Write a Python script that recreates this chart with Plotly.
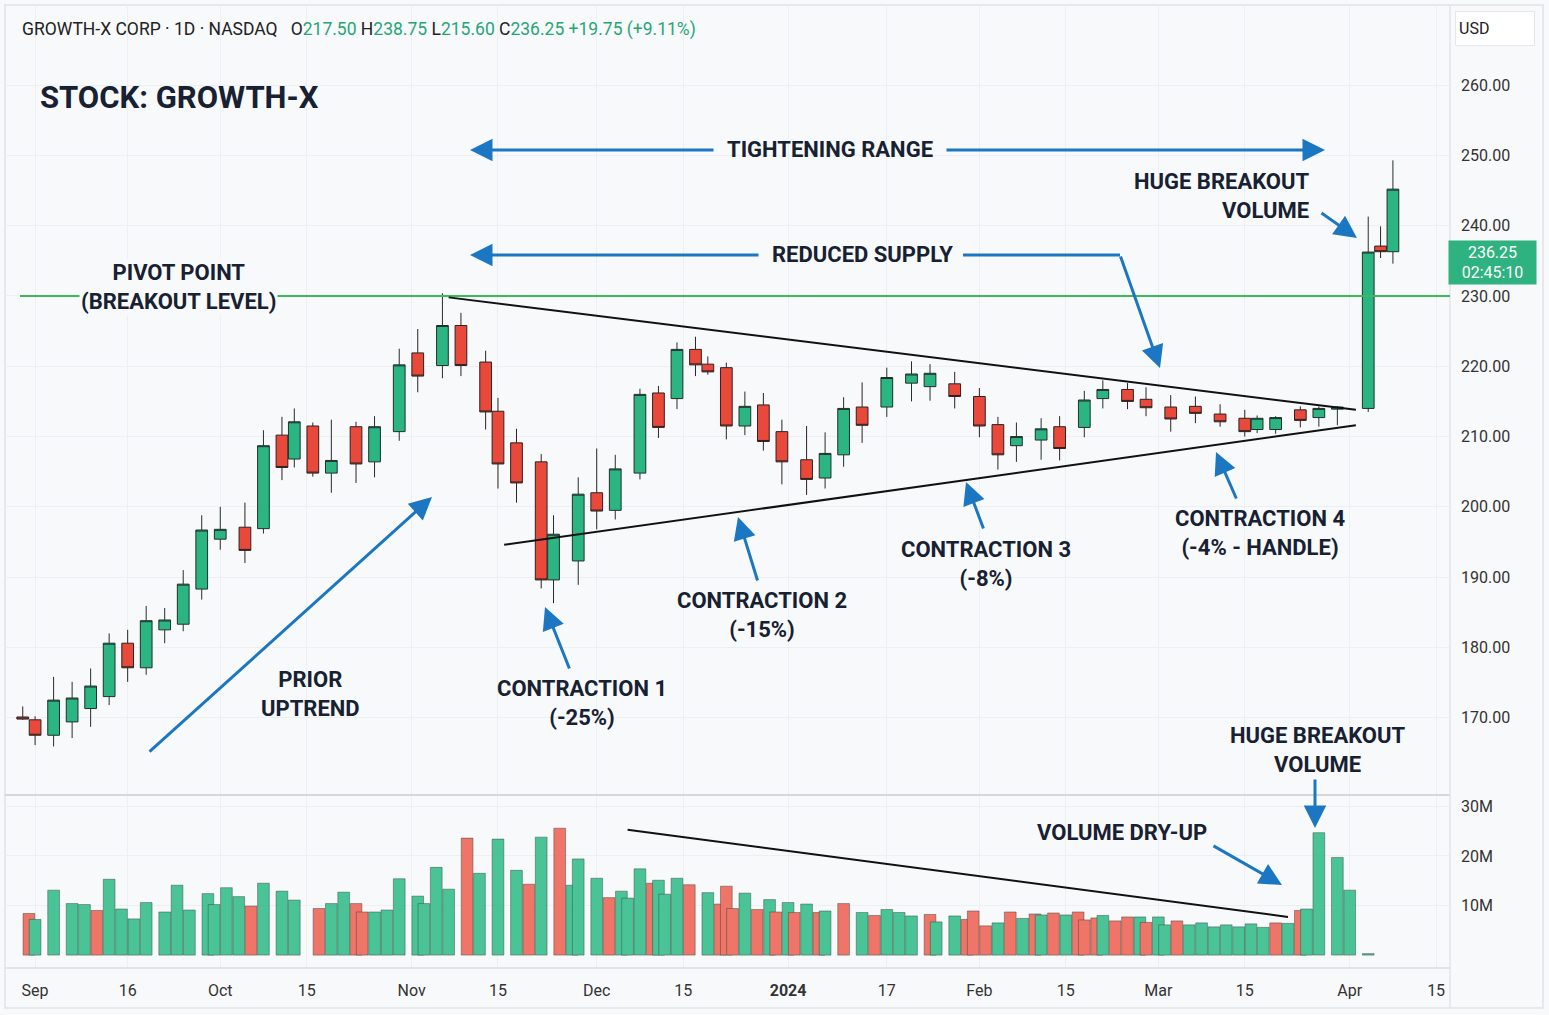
import plotly.graph_objects as go

# ---- price candles (daily) ----
candle_dates = [
    "2023-08-30", "2023-09-01", "2023-09-04", "2023-09-07", "2023-09-10", "2023-09-13", "2023-09-16",
    "2023-09-19", "2023-09-22", "2023-09-25", "2023-09-28", "2023-10-01", "2023-10-05", "2023-10-08",
    "2023-10-11", "2023-10-13", "2023-10-16", "2023-10-19", "2023-10-23", "2023-10-26", "2023-10-30",
    "2023-11-02", "2023-11-06", "2023-11-09", "2023-11-13", "2023-11-15", "2023-11-18", "2023-11-22",
    "2023-11-24", "2023-11-28", "2023-12-01", "2023-12-04", "2023-12-08", "2023-12-11", "2023-12-14",
    "2023-12-17", "2023-12-19", "2023-12-22", "2023-12-25", "2023-12-28", "2023-12-31", "2024-01-04",
    "2024-01-07", "2024-01-10", "2024-01-13", "2024-01-17", "2024-01-21", "2024-01-24", "2024-01-28",
    "2024-02-01", "2024-02-04", "2024-02-07", "2024-02-11", "2024-02-14", "2024-02-18", "2024-02-21",
    "2024-02-25", "2024-02-28", "2024-03-03", "2024-03-07", "2024-03-11", "2024-03-15", "2024-03-17",
    "2024-03-20", "2024-03-24", "2024-03-27", "2024-03-30", "2024-04-04", "2024-04-06", "2024-04-08",
]
opens = [170.1, 169.7, 167.5, 169.4, 171.3, 173.0, 180.6, 177.1, 182.5, 183.3, 188.3, 195.4, 197.1, 196.9,
         210.2, 206.8, 211.5, 204.8, 211.4, 206.4, 210.7, 221.9, 220.1, 225.8, 220.6, 213.6, 209.1, 206.4,
         189.6, 192.3, 202.0, 199.5, 204.8, 216.2, 215.4, 222.4, 220.3, 219.8, 211.5, 214.5, 210.7, 206.7,
         204.1, 207.4, 214.2, 214.2, 217.6, 217.1, 217.5, 215.7, 211.7, 208.7, 209.5, 211.4, 211.3, 215.4,
         216.7, 215.3, 214.2, 214.3, 213.2, 212.6, 211.0, 211.0, 213.8, 212.7, 213.9, 214.0, 237.1, 236.3]
highs = [171.6, 170.2, 175.8, 175.1, 177.0, 182.0, 182.5, 185.9, 185.6, 191.0, 198.8, 200.0, 200.6, 210.9,
         212.8, 214.0, 212.0, 212.4, 212.1, 212.9, 222.5, 225.3, 230.4, 227.6, 222.2, 215.5, 211.1, 207.5,
         198.8, 204.2, 208.3, 207.4, 216.8, 217.2, 223.4, 224.2, 221.4, 220.5, 216.4, 216.2, 212.4, 211.5,
         210.6, 215.6, 217.7, 219.8, 220.7, 220.3, 219.2, 216.9, 212.8, 212.0, 212.6, 212.9, 216.5, 218.0,
         217.6, 217.0, 215.9, 215.7, 214.6, 213.8, 213.0, 212.9, 214.3, 214.3, 214.3, 241.3, 239.9, 249.3]
lows = [169.7, 166.1, 165.9, 167.1, 168.7, 171.8, 175.1, 176.1, 180.6, 182.3, 186.8, 193.9, 192.0, 196.2,
        203.8, 205.6, 204.3, 202.0, 203.4, 204.2, 209.4, 216.3, 218.3, 218.6, 211.0, 202.6, 200.6, 188.4,
        186.3, 188.9, 196.8, 198.2, 203.9, 209.8, 213.9, 218.6, 218.8, 209.6, 210.2, 208.0, 203.2, 201.7,
        202.6, 205.7, 209.1, 212.8, 215.0, 215.1, 214.0, 209.9, 205.3, 206.4, 206.7, 206.6, 209.9, 214.0,
        213.9, 212.9, 210.7, 211.9, 211.4, 210.0, 210.5, 210.4, 211.3, 211.4, 211.6, 213.5, 235.4, 234.6]
closes = [169.8, 167.5, 172.5, 172.8, 174.5, 180.6, 177.1, 183.8, 183.9, 189.0, 196.7, 196.8, 193.8, 208.7,
          205.6, 212.1, 204.8, 206.6, 206.1, 211.4, 220.2, 218.6, 225.8, 220.1, 213.5, 206.1, 203.4, 189.6,
          196.1, 201.8, 199.4, 205.4, 216.0, 211.3, 222.4, 220.2, 219.2, 211.5, 214.3, 209.3, 206.4, 203.9,
          207.6, 214.0, 211.6, 218.4, 218.9, 219.0, 215.7, 211.5, 207.4, 210.0, 211.1, 208.3, 215.2, 216.7,
          215.0, 214.1, 212.5, 213.3, 212.1, 210.7, 212.6, 212.7, 212.3, 214.0, 214.2, 236.25, 236.3, 245.2]

# ---- volume (millions), G = up bar, R = down bar ----
volume_dates = [
    "2023-08-31", "2023-09-01", "2023-09-04", "2023-09-07", "2023-09-09", "2023-09-11", "2023-09-13",
    "2023-09-15", "2023-09-17", "2023-09-19", "2023-09-22", "2023-09-24", "2023-09-26", "2023-09-29",
    "2023-09-30", "2023-10-02", "2023-10-04", "2023-10-06", "2023-10-08", "2023-10-11", "2023-10-13",
    "2023-10-17", "2023-10-19", "2023-10-21", "2023-10-23", "2023-10-24", "2023-10-26", "2023-10-28",
    "2023-10-30", "2023-11-02", "2023-11-03", "2023-11-05", "2023-11-07", "2023-11-10", "2023-11-12",
    "2023-11-15", "2023-11-18", "2023-11-20", "2023-11-22", "2023-11-25", "2023-11-27", "2023-11-28",
    "2023-12-01", "2023-12-03", "2023-12-05", "2023-12-06", "2023-12-08", "2023-12-10", "2023-12-11",
    "2023-12-12", "2023-12-14", "2023-12-16", "2023-12-19", "2023-12-21", "2023-12-22", "2023-12-23",
    "2023-12-25", "2023-12-27", "2023-12-29", "2023-12-30", "2024-01-01", "2024-01-02", "2024-01-04",
    "2024-01-06", "2024-01-07", "2024-01-10", "2024-01-13", "2024-01-15", "2024-01-17", "2024-01-19",
    "2024-01-21", "2024-01-24", "2024-01-25", "2024-01-28", "2024-01-30", "2024-01-31", "2024-02-02",
    "2024-02-04", "2024-02-06", "2024-02-08", "2024-02-10", "2024-02-11", "2024-02-13", "2024-02-15",
    "2024-02-17", "2024-02-18", "2024-02-20", "2024-02-21", "2024-02-23", "2024-02-25", "2024-02-27",
    "2024-02-28", "2024-03-01", "2024-03-02", "2024-03-04", "2024-03-06", "2024-03-08", "2024-03-10",
    "2024-03-12", "2024-03-14", "2024-03-16", "2024-03-18", "2024-03-20", "2024-03-22", "2024-03-24",
    "2024-03-25", "2024-03-27", "2024-03-30", "2024-04-01", "2024-04-04",
]
volume_m = [8.4, 7.2, 13.1, 10.4, 10.2, 9.0, 15.3, 9.3, 7.3, 10.6, 8.7, 14.1, 9.1, 12.4, 10.2, 13.6, 11.8,
            9.9, 14.5, 12.9, 11.1, 9.4, 10.4, 12.7, 10.4, 8.7, 8.7, 9.1, 15.4, 11.9, 10.4, 17.7, 13.3, 23.6,
            16.5, 23.4, 17.1, 14.3, 23.8, 25.6, 14.1, 19.4, 15.5, 11.6, 12.9, 11.5, 17.4, 14.5, 15.1, 12.3,
            15.5, 14.2, 12.6, 10.3, 13.9, 9.4, 12.5, 9.2, 11.2, 8.7, 10.6, 8.6, 10.3, 8.6, 8.9, 10.4, 8.6,
            8.0, 9.2, 8.6, 7.9, 8.2, 6.7, 7.9, 7.2, 8.9, 5.9, 6.5, 8.7, 7.4, 8.3, 8.1, 8.5, 8.1, 8.7, 7.1,
            7.5, 8.0, 6.9, 7.7, 7.7, 6.6, 7.7, 6.1, 6.9, 6.1, 6.5, 5.7, 6.1, 5.7, 6.3, 5.6, 6.5, 6.4, 9.0,
            9.3, 24.7, 19.7, 13.1, 0.3]
volume_up = "RGGGGRGGGGGGGGGGGRGGGRGGRRGGGGGGGRGGGRGRGGGRGGGRGGGRGRRRGRGRGRGRGRGRGGGRGGRRRGRGRGRGRRRGRRGRGGRGGGGGGGRGRGGGGG"

price_ticks = [170, 180, 190, 200, 210, 220, 230, 240, 250, 260]
volume_ticks = [10, 20, 30]
date_ticks = ["2023-09-01", "2023-09-16", "2023-10-01", "2023-10-15", "2023-11-01", "2023-11-15",
              "2023-12-01", "2023-12-15", "2024-01-01", "2024-01-17", "2024-02-01", "2024-02-15",
              "2024-03-01", "2024-03-15", "2024-04-01", "2024-04-15"]
date_labels = ["Sep", "16", "Oct", "15", "Nov", "15", "Dec", "15", "<b>2024</b>", "17", "Feb", "15",
               "Mar", "15", "Apr", "15"]

pivot_level = 230.0
last_price = 236.25
upper_trend = (["2023-11-07", "2024-04-02"], [229.8, 213.8])
lower_trend = (["2023-11-16", "2024-04-02"], [194.6, 211.6])
volume_trend = (["2023-12-06", "2024-03-22"], [25.3, 7.7])

GREEN = "#2bb582"
RED = "#e8493b"
BLUE = "#1c77c3"
INK = "#172131"
BG = "#f8f9fb"
GRID = "#eceff3"
BOLD = "Roboto, Lato, Arial"
PLAIN = "Roboto, Inter, Arial"


# pixel -> paper helpers for annotation placement (plot area 5..1450 x 5..967)
def px(x):
    return (x - 5) / 1445


def py(y):
    return (967 - y) / 962


fig = go.Figure()

fig.add_trace(go.Bar(
    x=volume_dates,
    y=[v * 1e6 for v in volume_m],
    width=1.9 * 86400000,
    marker=dict(color=["#3cc08f" if u == "G" else "#ef6a5c" for u in volume_up],
                line=dict(color="rgba(30,45,40,0.55)", width=0.8)),
    opacity=0.92,
    yaxis="y2",
    showlegend=False,
    hoverinfo="skip",
))

fig.add_trace(go.Candlestick(
    x=candle_dates, open=opens, high=highs, low=lows, close=closes,
    increasing=dict(line=dict(color="#22302c", width=1), fillcolor=GREEN),
    decreasing=dict(line=dict(color="#2e2222", width=1), fillcolor=RED),
    whiskerwidth=0,
    yaxis="y",
    showlegend=False,
))

shapes = [
    # outer card
    dict(type="rect", xref="paper", yref="paper", x0=px(5), x1=px(1543), y0=py(1008), y1=py(5),
         line=dict(color="#dfe3e8", width=1.5), layer="below"),
    # pane separator and price-scale border
    dict(type="line", xref="paper", yref="paper", x0=0, x1=1, y0=py(795), y1=py(795),
         line=dict(color="#d4d8de", width=2)),
    dict(type="line", xref="paper", yref="paper", x0=1, x1=1, y0=py(1008), y1=1,
         line=dict(color="#e1e4e8", width=1.5)),
    # pivot line
    dict(type="line", xref="paper", yref="y", x0=px(20), x1=1, y0=pivot_level, y1=pivot_level,
         line=dict(color="#3bb95c", width=2)),
    # trend lines
    dict(type="line", xref="x", yref="y", x0=upper_trend[0][0], x1=upper_trend[0][1],
         y0=upper_trend[1][0], y1=upper_trend[1][1], line=dict(color="#111", width=2)),
    dict(type="line", xref="x", yref="y", x0=lower_trend[0][0], x1=lower_trend[0][1],
         y0=lower_trend[1][0], y1=lower_trend[1][1], line=dict(color="#111", width=2)),
    dict(type="line", xref="x", yref="y2", x0=volume_trend[0][0], x1=volume_trend[0][1],
         y0=volume_trend[1][0] * 1e6, y1=volume_trend[1][1] * 1e6, line=dict(color="#111", width=2)),
    # reduced supply elbow
    dict(type="line", xref="paper", yref="paper", x0=px(963), x1=px(1120), y0=py(255), y1=py(255),
         line=dict(color=BLUE, width=3)),
]

annotations = []


def arrow(tail, head):
    annotations.append(dict(
        x=px(head[0]), y=py(head[1]), xref="paper", yref="paper",
        ax=tail[0] - head[0], ay=tail[1] - head[1], text="", showarrow=True,
        arrowhead=2, arrowsize=1.5, arrowwidth=3, arrowcolor=BLUE, standoff=0,
    ))


def label(text, x, y, size=22, anchor="center", bg=None):
    annotations.append(dict(
        x=px(x), y=py(y), xref="paper", yref="paper", text=text, showarrow=False,
        xanchor=anchor, yanchor="middle", align=anchor if anchor != "center" else "center",
        font=dict(family=BOLD, size=size, color=INK, weight=700),
        bgcolor=bg,
    ))


arrow((715, 150), (470, 150))
arrow((945, 150), (1325, 150))
arrow((760, 255), (470, 255))
arrow((1120, 255), (1160, 368))
arrow((148, 753), (432, 497))
arrow((570, 670), (545, 607))
arrow((758, 582), (738, 517))
arrow((984, 530), (966, 482))
arrow((1237, 500), (1216, 452))
arrow((1320, 212), (1357, 238))
arrow((1315, 778), (1315, 828))
arrow((1212, 845), (1282, 885))

label("STOCK: GROWTH-X", 38, 98, size=31, anchor="left")
label("TIGHTENING RANGE", 830, 149)
label("REDUCED SUPPLY", 862, 255)
label("PIVOT POINT<br>(BREAKOUT LEVEL)", 178, 287, bg=BG)
label("PRIOR<br>UPTREND", 310, 694)
label("CONTRACTION 1<br>(-25%)", 582, 703)
label("CONTRACTION 2<br>(-15%)", 762, 615)
label("CONTRACTION 3<br>(-8%)", 986, 564)
label("CONTRACTION 4<br>(-4% - HANDLE)", 1260, 533)
label("HUGE BREAKOUT<br>VOLUME", 1311, 196, anchor="right")
label("HUGE BREAKOUT<br>VOLUME", 1317, 750)
label("VOLUME DRY-UP", 1122, 833)

num = "<span style='color:#26a676'>%s</span>"
header = ("GROWTH-X CORP · 1D · NASDAQ&nbsp;&nbsp;&nbsp;O" + num % "217.50" + "&nbsp;H" + num % "238.75"
          + "&nbsp;L" + num % "215.60" + "&nbsp;C" + num % "236.25" + "&nbsp;" + num % "+19.75 (+9.11%)")
annotations.append(dict(x=px(20), y=py(29), xref="paper", yref="paper", text=header, showarrow=False,
                        xanchor="left", yanchor="middle", font=dict(family=PLAIN, size=17.5, color="#222")))

annotations.append(dict(x=px(1455), y=py(28.5), xref="paper", yref="paper", text="USD", showarrow=False,
                        xanchor="left", yanchor="middle", width=72, height=27, align="left",
                        bgcolor="#ffffff", bordercolor="#e4e7eb", borderwidth=1, borderpad=3,
                        font=dict(family=PLAIN, size=16, color="#222")))
annotations.append(dict(x=px(1448), y=last_price, xref="paper", yref="y", yshift=-10,
                        text="%.2f<br>02:45:10" % last_price, showarrow=False,
                        xanchor="left", yanchor="middle", width=83, height=39, align="center",
                        bgcolor="#2eb27f", borderpad=2,
                        font=dict(family=PLAIN, size=16, color="#ffffff")))

fig.update_layout(
    width=1549, height=1015,
    margin=dict(l=5, r=99, t=5, b=48),
    paper_bgcolor=BG, plot_bgcolor=BG,
    barmode="overlay", boxgap=0.05, boxgroupgap=0,
    showlegend=False,
    font=dict(family=PLAIN, size=16, color="#333"),
    xaxis=dict(
        type="date", anchor="y2",
        range=["2023-08-27 03:00", "2024-04-17 06:00"],
        tickvals=date_ticks, ticktext=date_labels,
        showgrid=True, gridcolor=GRID, gridwidth=1,
        showline=True, linecolor="#e1e4e8", linewidth=1.5,
        ticks="", ticklabelstandoff=8,
        rangeslider=dict(visible=False),
        tickfont=dict(size=16, color="#333"),
    ),
    yaxis=dict(
        domain=[py(795), 1], side="right", range=[159.0, 271.4],
        tickvals=price_ticks, tickformat=".2f",
        showgrid=True, gridcolor=GRID, zeroline=False,
        ticks="", ticklabelstandoff=10, tickfont=dict(size=16, color="#333"),
    ),
    yaxis2=dict(
        domain=[0, py(795)], side="right", range=[-2.4e6, 32.3e6],
        tickvals=[v * 1e6 for v in volume_ticks], ticktext=["%dM" % v for v in volume_ticks],
        showgrid=True, gridcolor=GRID, zeroline=False,
        ticks="", ticklabelstandoff=10, tickfont=dict(size=16, color="#333"),
    ),
    shapes=shapes,
    annotations=annotations,
)

# the page's default 8px body margin would shift the whole card
fig.write_html("out.html", config={"displayModeBar": False},
               post_script="document.body.style.margin='0px';")
